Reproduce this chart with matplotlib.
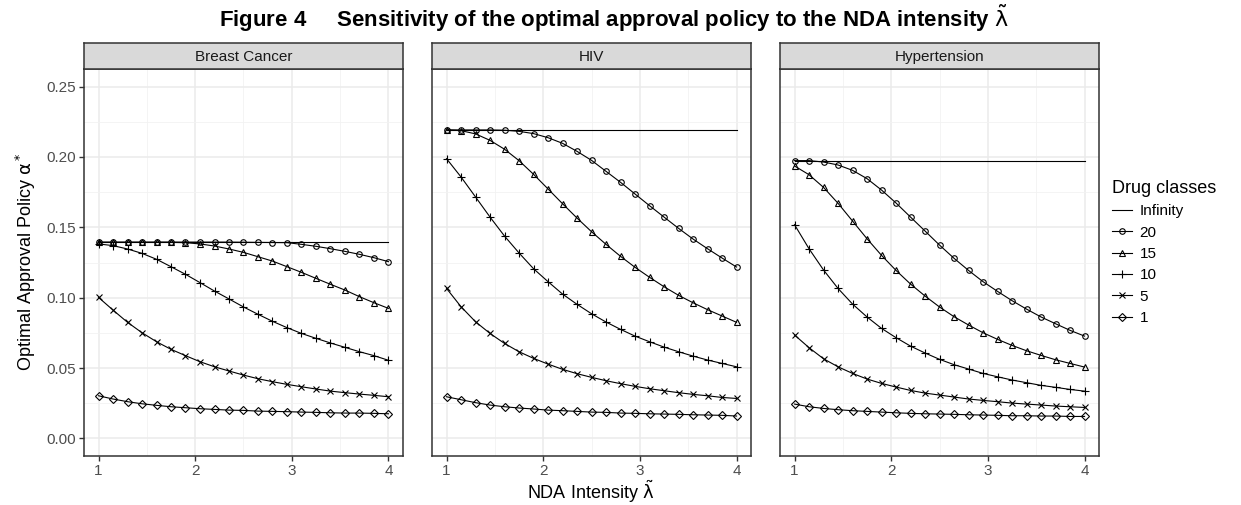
import numpy as np
import matplotlib
matplotlib.use("Agg")
import matplotlib.pyplot as plt
from matplotlib.ticker import MultipleLocator

plt.rcParams['font.family'] = ['Liberation Sans', 'DejaVu Sans']
plt.rcParams['mathtext.fontset'] = 'dejavusans'

# NDA intensity grid
lam = np.linspace(1, 4, 21)

diseases = ["Breast Cancer", "HIV", "Hypertension"]
classes = ["Infinity", "20", "15", "10", "5", "1"]

# Breast Cancer
bc_inf = [0.1395] * 21
bc_20 = [0.1395, 0.1395, 0.1395, 0.1395, 0.1395, 0.1395, 0.1395, 0.1395, 0.1395, 0.1395,
         0.1394, 0.1393, 0.1392, 0.1391, 0.1379, 0.1365, 0.1348, 0.1329, 0.1308, 0.1284, 0.1256]
bc_15 = [0.1393, 0.1393, 0.1393, 0.1393, 0.1393, 0.1393, 0.1391, 0.1382, 0.1367, 0.1346,
         0.1322, 0.1291, 0.1260, 0.1220, 0.1180, 0.1137, 0.1095, 0.1054, 0.1007, 0.0964, 0.0924]
bc_10 = [0.1382, 0.1370, 0.1346, 0.1315, 0.1273, 0.1220, 0.1166, 0.1107, 0.1047, 0.0991,
         0.0934, 0.0882, 0.0832, 0.0787, 0.0746, 0.0711, 0.0678, 0.0647, 0.0616, 0.0588, 0.0555]
bc_5 = [0.1002, 0.0912, 0.0825, 0.0751, 0.0687, 0.0633, 0.0588, 0.0545, 0.0509, 0.0479,
        0.0450, 0.0424, 0.0403, 0.0384, 0.0367, 0.0351, 0.0336, 0.0325, 0.0315, 0.0306, 0.0296]
bc_1 = [0.0303, 0.0280, 0.0261, 0.0246, 0.0235, 0.0225, 0.0218, 0.0211, 0.0206, 0.0201,
        0.0199, 0.0194, 0.0192, 0.0190, 0.0187, 0.0185, 0.0182, 0.0180, 0.0180, 0.0178, 0.0175]

# HIV
hiv_inf = [0.2192] * 21
hiv_20 = [0.2192, 0.2192, 0.2192, 0.2192, 0.2190, 0.2182, 0.2166, 0.2137, 0.2097, 0.2040,
          0.1976, 0.1898, 0.1820, 0.1737, 0.1654, 0.1573, 0.1493, 0.1417, 0.1348, 0.1282, 0.1218]
hiv_15 = [0.2192, 0.2187, 0.2164, 0.2118, 0.2055, 0.1974, 0.1877, 0.1773, 0.1668, 0.1566,
          0.1469, 0.1379, 0.1294, 0.1216, 0.1145, 0.1078, 0.1017, 0.0964, 0.0915, 0.0870, 0.0825]
hiv_10 = [0.1988, 0.1858, 0.1716, 0.1573, 0.1438, 0.1318, 0.1206, 0.1114, 0.1026, 0.0953,
          0.0886, 0.0827, 0.0775, 0.0727, 0.0687, 0.0649, 0.0616, 0.0585, 0.0557, 0.0533, 0.0509]
hiv_5 = [0.1066, 0.0936, 0.0829, 0.0746, 0.0675, 0.0616, 0.0569, 0.0528, 0.0491, 0.0460,
         0.0434, 0.0410, 0.0389, 0.0370, 0.0353, 0.0339, 0.0325, 0.0313, 0.0303, 0.0291, 0.0284]
hiv_1 = [0.0296, 0.0275, 0.0254, 0.0237, 0.0225, 0.0216, 0.0209, 0.0201, 0.0197, 0.0192,
         0.0187, 0.0185, 0.0180, 0.0178, 0.0175, 0.0173, 0.0171, 0.0168, 0.0166, 0.0164, 0.0159]

# Hypertension
hyp_inf = [0.1974] * 21
hyp_20 = [0.1974, 0.1974, 0.1964, 0.1943, 0.1905, 0.1846, 0.1765, 0.1673, 0.1573, 0.1474,
          0.1374, 0.1280, 0.1194, 0.1114, 0.1045, 0.0979, 0.0919, 0.0863, 0.0815, 0.0768, 0.0727]
hyp_15 = [0.1936, 0.1874, 0.1784, 0.1671, 0.1545, 0.1419, 0.1301, 0.1194, 0.1097, 0.1012,
          0.0934, 0.0865, 0.0806, 0.0751, 0.0704, 0.0661, 0.0623, 0.0590, 0.0559, 0.0533, 0.0507]
hyp_10 = [0.1519, 0.1348, 0.1197, 0.1066, 0.0955, 0.0863, 0.0782, 0.0716, 0.0656, 0.0607,
          0.0562, 0.0524, 0.0493, 0.0462, 0.0438, 0.0415, 0.0396, 0.0377, 0.0363, 0.0348, 0.0336]
hyp_5 = [0.0735, 0.0645, 0.0566, 0.0509, 0.0462, 0.0422, 0.0391, 0.0365, 0.0341, 0.0322,
         0.0308, 0.0294, 0.0280, 0.0270, 0.0261, 0.0251, 0.0244, 0.0237, 0.0230, 0.0225, 0.0220]
hyp_1 = [0.0244, 0.0225, 0.0213, 0.0204, 0.0197, 0.0192, 0.0187, 0.0182, 0.0178, 0.0175,
         0.0173, 0.0171, 0.0168, 0.0166, 0.0164, 0.0161, 0.0161, 0.0159, 0.0159, 0.0156, 0.0156]

series = {
    "Breast Cancer": [bc_inf, bc_20, bc_15, bc_10, bc_5, bc_1],
    "HIV": [hiv_inf, hiv_20, hiv_15, hiv_10, hiv_5, hiv_1],
    "Hypertension": [hyp_inf, hyp_20, hyp_15, hyp_10, hyp_5, hyp_1],
}

markers = [None, "o", "^", "+", "x", "D"]
msizes = [0, 4.0, 4.5, 6.0, 4.5, 3.6]

W, H = 1241, 505
fig = plt.figure(figsize=(W / 100, H / 100), dpi=100)

lefts = [84, 432, 780]
pw = 319
bottom, top = 456, 69
strip_top = 43

axes = []
for i, name in enumerate(diseases):
    ax = fig.add_axes([lefts[i] / W, 1 - bottom / H, pw / W, (bottom - top) / H])
    axes.append(ax)
    ax.set_xlim(0.85, 4.15)
    ax.set_ylim(-0.0125, 0.2625)
    ax.xaxis.set_major_locator(MultipleLocator(1))
    ax.xaxis.set_minor_locator(MultipleLocator(0.5))
    ax.yaxis.set_major_locator(MultipleLocator(0.05))
    ax.yaxis.set_minor_locator(MultipleLocator(0.025))
    ax.grid(which="major", color="#EBEBEB", lw=1.1)
    ax.grid(which="minor", color="#F2F2F2", lw=0.6)
    ax.set_axisbelow(True)
    for sp in ax.spines.values():
        sp.set_color("#333333")
        sp.set_linewidth(1.1)
    ax.tick_params(which="major", length=3.5, width=1.0, color="#333333",
                   labelcolor="#4D4D4D", labelsize=11, pad=2)
    ax.tick_params(which="minor", length=0)
    ax.set_xticks([1, 2, 3, 4])
    ax.set_xticklabels(["1", "2", "3", "4"])
    if i == 0:
        ax.set_yticks([0, 0.05, 0.10, 0.15, 0.20, 0.25])
        ax.set_yticklabels(["0.00", "0.05", "0.10", "0.15", "0.20", "0.25"])
    else:
        ax.tick_params(axis="y", which="both", left=False, labelleft=False)

    for vals, lab, m, ms in zip(series[name], classes, markers, msizes):
        ax.plot(lam[:len(vals)], vals, color="black", lw=0.8, marker=m, ms=ms,
                mfc="none", mec="black", mew=0.8, label=lab)

    # facet strip
    sax = fig.add_axes([lefts[i] / W, 1 - top / H, pw / W, (top - strip_top) / H])
    sax.set_facecolor("#D9D9D9")
    sax.set_xticks([])
    sax.set_yticks([])
    for sp in sax.spines.values():
        sp.set_color("#333333")
        sp.set_linewidth(1.1)
    sax.text(0.5, 0.45, name, ha="center", va="center", fontsize=11,
             color="#1A1A1A", transform=sax.transAxes)

fig.text(0.495, 1 - 18 / H,
         r"Figure 4     Sensitivity of the optimal approval policy to the NDA intensity $\tilde{\mathrm{\lambda}}$",
         ha="center", va="center", fontsize=16, fontweight="bold")

fig.text(591 / W, 1 - 492 / H, r"NDA Intensity $\tilde{\mathrm{\lambda}}$", ha="center",
         va="center", fontsize=13)
fig.text(26 / W, 1 - 262 / H, r"Optimal Approval Policy $\mathrm{\alpha}^*$", ha="center",
         va="center", rotation=90, fontsize=13)

handles, labels = axes[0].get_legend_handles_labels()
leg = fig.legend(handles, labels, title="Drug classes", loc="upper left",
                 bbox_to_anchor=(1106 / W, 1 - 174 / H), frameon=False,
                 fontsize=11, title_fontsize=13, handlelength=1.3,
                 handletextpad=0.5, labelspacing=0.48, borderaxespad=0)
leg._legend_box.align = "left"

fig.savefig("out.png", dpi=100)
